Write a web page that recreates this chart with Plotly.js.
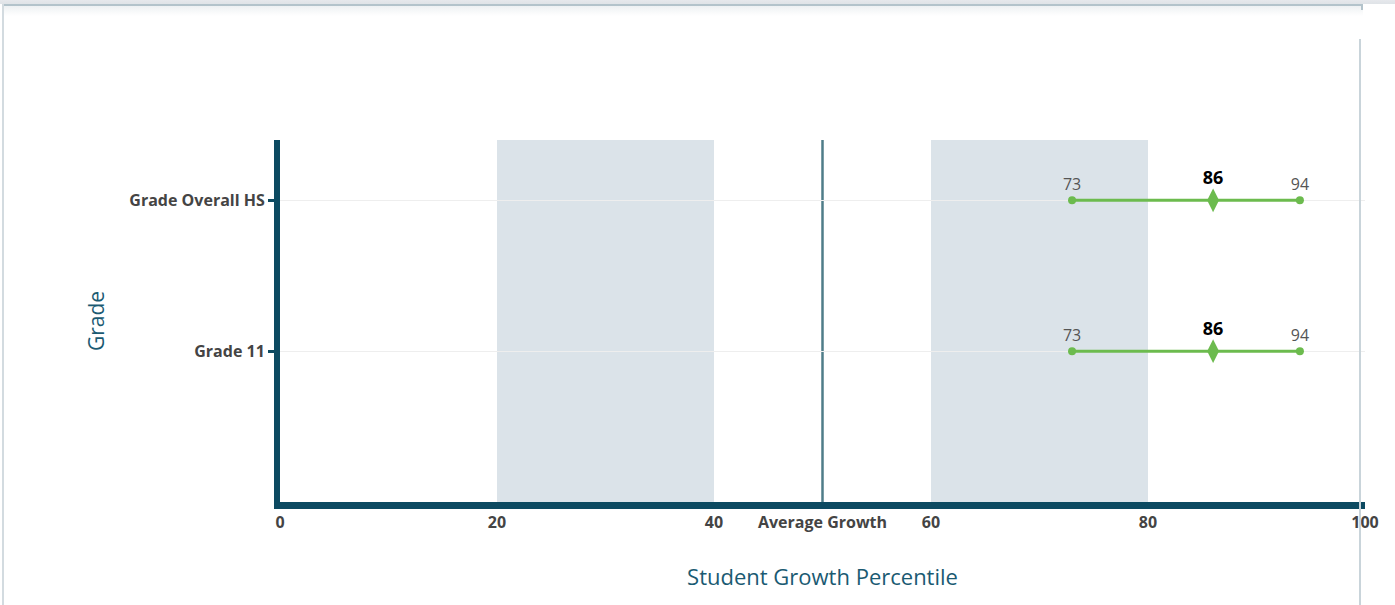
<!DOCTYPE html>
<html>
<head>
<meta charset="utf-8">
<script src="https://cdn.plot.ly/plotly-3.0.1.min.js"></script>
<style>
  html, body { margin: 0; padding: 0; background: #ffffff; }
  #wrap { position: relative; width: 1395px; height: 605px; overflow: hidden; }
  #chart { position: absolute; left: 0; top: 0; width: 1395px; height: 605px; }
  .deco { position: absolute; pointer-events: none; }
</style>
</head>
<body>
<div id="wrap">
  <div id="chart"></div>
  <div class="deco" style="left:0;top:0;width:1395px;height:4px;background:linear-gradient(#e6e8ec,#dfe3e7);"></div>
  <div class="deco" style="left:2px;top:4px;width:1361px;height:2px;background:#b3c3cb;"></div>
  <div class="deco" style="left:2px;top:6px;width:1361px;height:10px;background:linear-gradient(#eef1f3,rgba(255,255,255,0));"></div>
  <div class="deco" style="left:2px;top:4px;width:2px;height:601px;background:#d3dbe0;"></div>
  <div class="deco" style="left:1361px;top:4px;width:2px;height:6px;background:#b3c3cb;"></div>
  <div class="deco" style="left:1359px;top:39px;width:2px;height:566px;background:#c9d4da;"></div>
</div>
<script>
const categories = ["Grade Overall HS", "Grade 11"];
const lowValues = [73, 73];
const midValues = [86, 86];
const highValues = [94, 94];
const tickValues = [0, 20, 40, 50, 60, 80, 100];
const tickLabels = ["0", "20", "40", "Average Growth", "60", "80", "100"];
const bandRanges = [[20, 40], [60, 80]];
const averageLine = 50;

const green = "#6cbb4e";
const traces = [];
categories.forEach((cat, i) => {
  traces.push({
    type: "scatter", mode: "lines+markers+text",
    x: [lowValues[i], highValues[i]], y: [i, i],
    line: { color: green, width: 3 },
    marker: { color: green, size: 8, symbol: "circle" },
    text: [String(lowValues[i]), String(highValues[i])],
    textposition: "top center",
    textfont: { family: "Open Sans", size: 16, color: "#555555" },
    hoverinfo: "none", showlegend: false, cliponaxis: false
  });
  traces.push({
    type: "scatter", mode: "markers+text",
    x: [midValues[i]], y: [i],
    marker: { color: green, size: 17, symbol: "diamond-tall" },
    text: ["<b>" + midValues[i] + "</b>"],
    textposition: "top center",
    textfont: { family: "Open Sans", size: 18, color: "#000000" },
    hoverinfo: "none", showlegend: false, cliponaxis: false
  });
});

const shapes = bandRanges.map(r => ({
  type: "rect", xref: "x", yref: "paper", x0: r[0], x1: r[1], y0: 0, y1: 1,
  fillcolor: "#dbe3e9", line: { width: 0 }, layer: "below"
}));
shapes.push({
  type: "line", xref: "x", yref: "paper", x0: averageLine, x1: averageLine, y0: 0, y1: 1,
  line: { color: "#4f7d89", width: 2.5 }, layer: "below"
});

const layout = {
  width: 1395, height: 605,
  margin: { l: 280, r: 30, t: 140, b: 103, pad: 0 },
  paper_bgcolor: "rgba(0,0,0,0)", plot_bgcolor: "#ffffff",
  font: { family: "Open Sans", color: "#444444" },
  xaxis: {
    range: [0, 100], tickmode: "array", tickvals: tickValues, ticktext: tickLabels,
    tickfont: { family: "Open Sans", size: 16, color: "#444444", weight: "bold" },
    showgrid: false, zeroline: false, showline: true, linecolor: "#0c4a61", linewidth: 7,
    ticks: "", fixedrange: true,
    title: { text: "Student Growth Percentile", font: { family: "Open Sans", size: 22, color: "#1a5a72" }, standoff: 40 }
  },
  yaxis: {
    range: [2, -0.4], tickmode: "array", tickvals: [0, 1], ticktext: categories,
    tickfont: { family: "Open Sans", size: 16, color: "#444444", weight: "bold" },
    showgrid: true, gridcolor: "#eeeeee", gridwidth: 1,
    zeroline: false, showline: true, linecolor: "#0c4a61", linewidth: 6,
    ticks: "outside", ticklen: 6, tickwidth: 3, tickcolor: "#0c4a61", fixedrange: true,
    title: { text: "Grade", font: { family: "Open Sans", size: 21, color: "#1a5a72" }, standoff: 21 }
  },
  shapes: shapes,
  showlegend: false
};

Plotly.newPlot("chart", traces, layout, { displayModeBar: false, staticPlot: true });
</script>
</body>
</html>
